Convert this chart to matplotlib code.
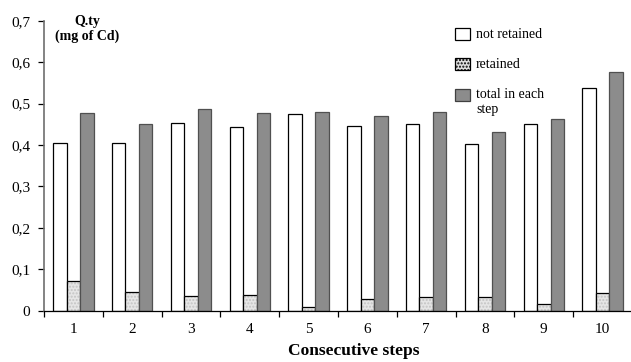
import numpy as np
import matplotlib.pyplot as plt
from matplotlib.patches import Rectangle

plt.rcParams['font.family'] = ['Liberation Serif', 'DejaVu Serif']

# values (mg of Cd)
steps = [1, 2, 3, 4, 5, 6, 7, 8, 9, 10]
not_retained = [0.405, 0.405, 0.454, 0.443, 0.475, 0.446, 0.451, 0.401, 0.450, 0.537]
retained = [0.072, 0.045, 0.034, 0.037, 0.008, 0.027, 0.033, 0.032, 0.016, 0.042]
total = [0.476, 0.450, 0.486, 0.477, 0.479, 0.469, 0.480, 0.431, 0.463, 0.576]
yticks = [0, 0.1, 0.2, 0.3, 0.4, 0.5, 0.6, 0.7]
ytick_labels = ['0', '0,1', '0,2', '0,3', '0,4', '0,5', '0,6', '0,7']

W, H = 631, 362
fig = plt.figure(figsize=(W / 100, H / 100), dpi=100)
ax = fig.add_axes([44 / W, 1 - 310.5 / H, 588 / W, 289.8 / H])

x = np.array(steps)
bw = 0.228
ax.bar(x - bw, not_retained, bw, color='white', edgecolor='black', linewidth=0.9)
ax.bar(x, retained, bw, color='#e6e6e6', edgecolor='#c4c4c4', hatch='.....', linewidth=0)
ax.bar(x, retained, bw, color='none', edgecolor='black', linewidth=0.9)
ax.bar(x + bw, total, bw, color='#8c8c8c', edgecolor='#505050', linewidth=0.9)

ax.set_xlim(0.5, 10.5)
ax.set_ylim(0, 0.7)
ax.set_yticks(yticks)
ax.set_yticklabels(ytick_labels, fontsize=11)
ax.set_xticks(x)
ax.set_xticklabels([str(s) for s in steps], fontsize=11)
ax.tick_params(axis='x', length=0, pad=9)
ax.set_xticks(np.arange(0.5, 11, 1), minor=True)
ax.tick_params(axis='x', which='minor', length=4, width=0.9, direction='out')
ax.tick_params(axis='y', length=4, width=0.9, direction='out', pad=6, colors='black')

for s in ['top', 'right']:
    ax.spines[s].set_visible(False)
ax.spines['left'].set_color('#6e6e6e')
ax.spines['left'].set_linewidth(1.2)
ax.spines['bottom'].set_linewidth(0.9)

ax.set_xlabel('Consecutive steps', fontsize=12.5, fontweight='bold', va='baseline')
ax.xaxis.set_label_coords((354 - 44) / 588, -(355 - 310.5) / 289.8)
fig.text(87 / W, 1 - 29 / H, 'Q.ty\n(mg of Cd)', fontsize=10, fontweight='bold',
         ha='center', va='center', linespacing=1.12)

# legend, drawn by hand to keep the square level with the first text line
entries = [
    (28.5, dict(facecolor='white', edgecolor='black'), 'not retained'),
    (58.5, dict(facecolor='#dedede', edgecolor='black', hatch='.....'), 'retained'),
    (89, dict(facecolor='#8c8c8c', edgecolor='#404040'), 'total in each\nstep'),
]
for top, style, label in entries:
    fig.patches.append(Rectangle((455 / W, 1 - (top + 11.5) / H), 15 / W, 11.5 / H,
                                 transform=fig.transFigure, linewidth=0.9, **style))
    fig.text(476 / W, 1 - (top - 1) / H, label, fontsize=10, ha='left', va='top',
             linespacing=1.15)

fig.savefig('out.png', dpi=100)
